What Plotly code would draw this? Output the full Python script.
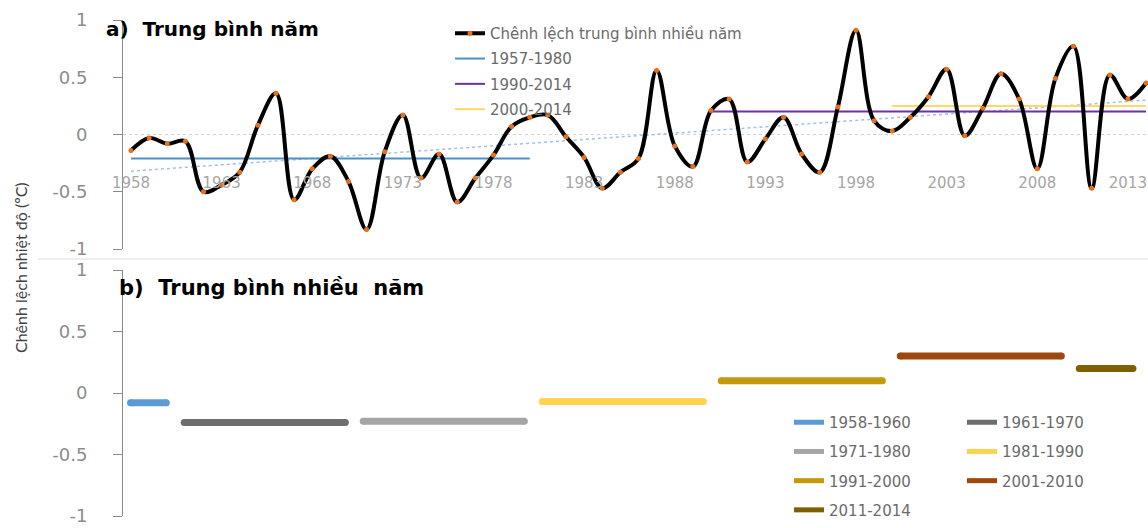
import plotly.graph_objects as go

# ---------------- data ----------------
years = list(range(1958, 2015))
anomaly = [-0.14, -0.03, -0.08, -0.06, -0.50, -0.44, -0.33, 0.08, 0.36, -0.57,
           -0.30, -0.19, -0.41, -0.83, -0.15, 0.17, -0.38, -0.17, -0.59, -0.38,
           -0.18, 0.07, 0.15, 0.17, -0.02, -0.20, -0.47, -0.33, -0.21, 0.56,
           -0.10, -0.28, 0.21, 0.31, -0.24, -0.04, 0.15, -0.17, -0.33, 0.24,
           0.91, 0.12, 0.03, 0.15, 0.33, 0.57, -0.01, 0.23, 0.53, 0.31,
           -0.30, 0.49, 0.77, -0.47, 0.52, 0.31, 0.45]
main_name = "Chênh lệch trung bình nhiều năm"

period_names = ["1957-1980", "1990-2014", "2000-2014"]
period_start = [1958, 1990, 2000]
period_end = [1980, 2014, 2014]
period_mean = [-0.21, 0.20, 0.25]
period_colors = ["#4A90CD", "#7030A0", "#FFD966"]

trend_years = [1958, 2014]
trend_values = [-0.32, 0.30]

decade_names = ["1958-1960", "1961-1970", "1971-1980", "1981-1990",
                "1991-2000", "2001-2010", "2011-2014"]
decade_start = [1958, 1961, 1971, 1981, 1991, 2001, 2011]
decade_end = [1960, 1970, 1980, 1990, 2000, 2010, 2014]
decade_mean = [-0.08, -0.24, -0.23, -0.07, 0.10, 0.30, 0.20]
decade_colors = ["#5B9BD5", "#6E6E6E", "#A5A5A5", "#FFD34F",
                 "#C49A0C", "#9E480E", "#7F6000"]
decade_legend = ["legend2", "legend3", "legend2", "legend3",
                 "legend2", "legend3", "legend2"]

ytick_vals = [-1, -0.5, 0, 0.5, 1]
ytick_text = ["-1", "-0.5", "0", "0.5", "1"]
xtick_vals = [1958, 1963, 1968, 1973, 1978, 1983, 1988, 1993, 1998, 2003, 2008, 2013]

# ---------------- geometry ----------------
W, H = 1148, 528
L = 123
PW = W - L


def fy(px):
    return 1 - px / H


def fx(px):
    return (px - L) / PW


FONT = "DejaVu Sans"
GRAY = "#8c8c8c"

fig = go.Figure()

# trend line (top)
fig.add_trace(go.Scatter(x=trend_years, y=trend_values, mode="lines",
                         line=dict(color="#9DC3E6", width=1.5, dash="dot"),
                         showlegend=False, xaxis="x", yaxis="y", hoverinfo="skip"))

# period means (top)
for i, nm in enumerate(period_names):
    fig.add_trace(go.Scatter(x=[period_start[i], period_end[i]],
                             y=[period_mean[i], period_mean[i]], mode="lines",
                             line=dict(color=period_colors[i], width=2),
                             name=nm, legend="legend", legendgroup=nm,
                             legendrank=2 + i, xaxis="x", yaxis="y"))

# main annual series
fig.add_trace(go.Scatter(x=years, y=anomaly, mode="lines+markers",
                         line=dict(color="black", width=4, shape="spline", smoothing=1),
                         marker=dict(color="#E8701A", size=5),
                         name=main_name, legend="legend", legendgroup="main",
                         legendrank=1, xaxis="x", yaxis="y"))

# decade means (bottom)
for i, nm in enumerate(decade_names):
    xs = [decade_start[i], decade_end[i]]
    ys = [decade_mean[i], decade_mean[i]]
    fig.add_trace(go.Scatter(x=xs, y=ys, mode="lines",
                             line=dict(color=decade_colors[i], width=7),
                             name=nm, legend=decade_legend[i], legendgroup=nm,
                             xaxis="x2", yaxis="y2"))
    fig.add_trace(go.Scatter(x=xs, y=ys, mode="markers",
                             marker=dict(color=decade_colors[i], size=7),
                             showlegend=False, xaxis="x2", yaxis="y2", hoverinfo="skip"))

yaxis_common = dict(range=[-1, 1], tickvals=ytick_vals, ticktext=ytick_text,
                    showline=True, linecolor="#8a8a8a", linewidth=1,
                    ticks="outside", ticklen=9, tickcolor="#8a8a8a",
                    ticklabelstandoff=22, showgrid=False, zeroline=False,
                    automargin=False, ticklabeloverflow="allow",
                    tickfont=dict(family=FONT, size=18, color=GRAY))

LEGFONT = dict(family=FONT, size=15, color="#6b6b6b")

fig.update_layout(
    width=W, height=H,
    margin=dict(l=L, r=0, t=0, b=0, autoexpand=False),
    paper_bgcolor="white", plot_bgcolor="white",
    xaxis=dict(domain=[0, 1], range=[1957.56, 2014.11], anchor="free",
               position=fy(172), tickvals=xtick_vals, showline=False,
               ticks="", showgrid=False, zeroline=False, automargin=False,
               tickfont=dict(family=FONT, size=15, color="#a6a6a6")),
    yaxis=dict(domain=[fy(249), fy(20)], anchor="x", **yaxis_common),
    xaxis2=dict(domain=[0, 1], range=[1957.58, 2014.84], anchor="y2",
                visible=False, automargin=False),
    yaxis2=dict(domain=[fy(516), fy(270)], anchor="x2", **yaxis_common),
    legend=dict(x=fx(450), y=fy(17), xanchor="left", yanchor="top",
                bgcolor="rgba(0,0,0,0)", tracegroupgap=2.8, font=LEGFONT),
    legend2=dict(x=fx(789), y=fy(406), xanchor="left", yanchor="top",
                 bgcolor="rgba(0,0,0,0)", tracegroupgap=6.7, itemsizing="constant",
                 font=LEGFONT),
    legend3=dict(x=fx(962), y=fy(406), xanchor="left", yanchor="top",
                 bgcolor="rgba(0,0,0,0)", tracegroupgap=6.7, itemsizing="constant",
                 font=LEGFONT),
    showlegend=True,
)

# dotted zero line in the top panel and separator between panels
fig.add_shape(type="line", xref="paper", yref="y", x0=0, x1=1, y0=0, y1=0,
              line=dict(color="#d0d0d0", width=1, dash="dot"), layer="below")
fig.add_shape(type="line", xref="paper", yref="paper", x0=fx(38), x1=1,
              y0=fy(259), y1=fy(259), line=dict(color="#dcdcdc", width=1))

# panel titles and y-axis title
fig.add_annotation(text="a)  Trung bình năm", xref="paper", yref="paper",
                   x=fx(104), y=fy(29), xanchor="left", yanchor="middle",
                   showarrow=False, font=dict(family=FONT, size=20, color="black", weight="bold"))
fig.add_annotation(text="b)  Trung bình nhiều  năm", xref="paper", yref="paper",
                   x=fx(117), y=fy(288), xanchor="left", yanchor="middle",
                   showarrow=False, font=dict(family=FONT, size=21, color="black", weight="bold"))
fig.add_annotation(text="Chênh lệch nhiệt độ (ºC)", xref="paper", yref="paper",
                   x=fx(20), y=fy(268), xanchor="center", yanchor="middle",
                   textangle=-90, showarrow=False,
                   font=dict(family="Lato", size=16, color="#404040"))

fig.write_html("out.html")
